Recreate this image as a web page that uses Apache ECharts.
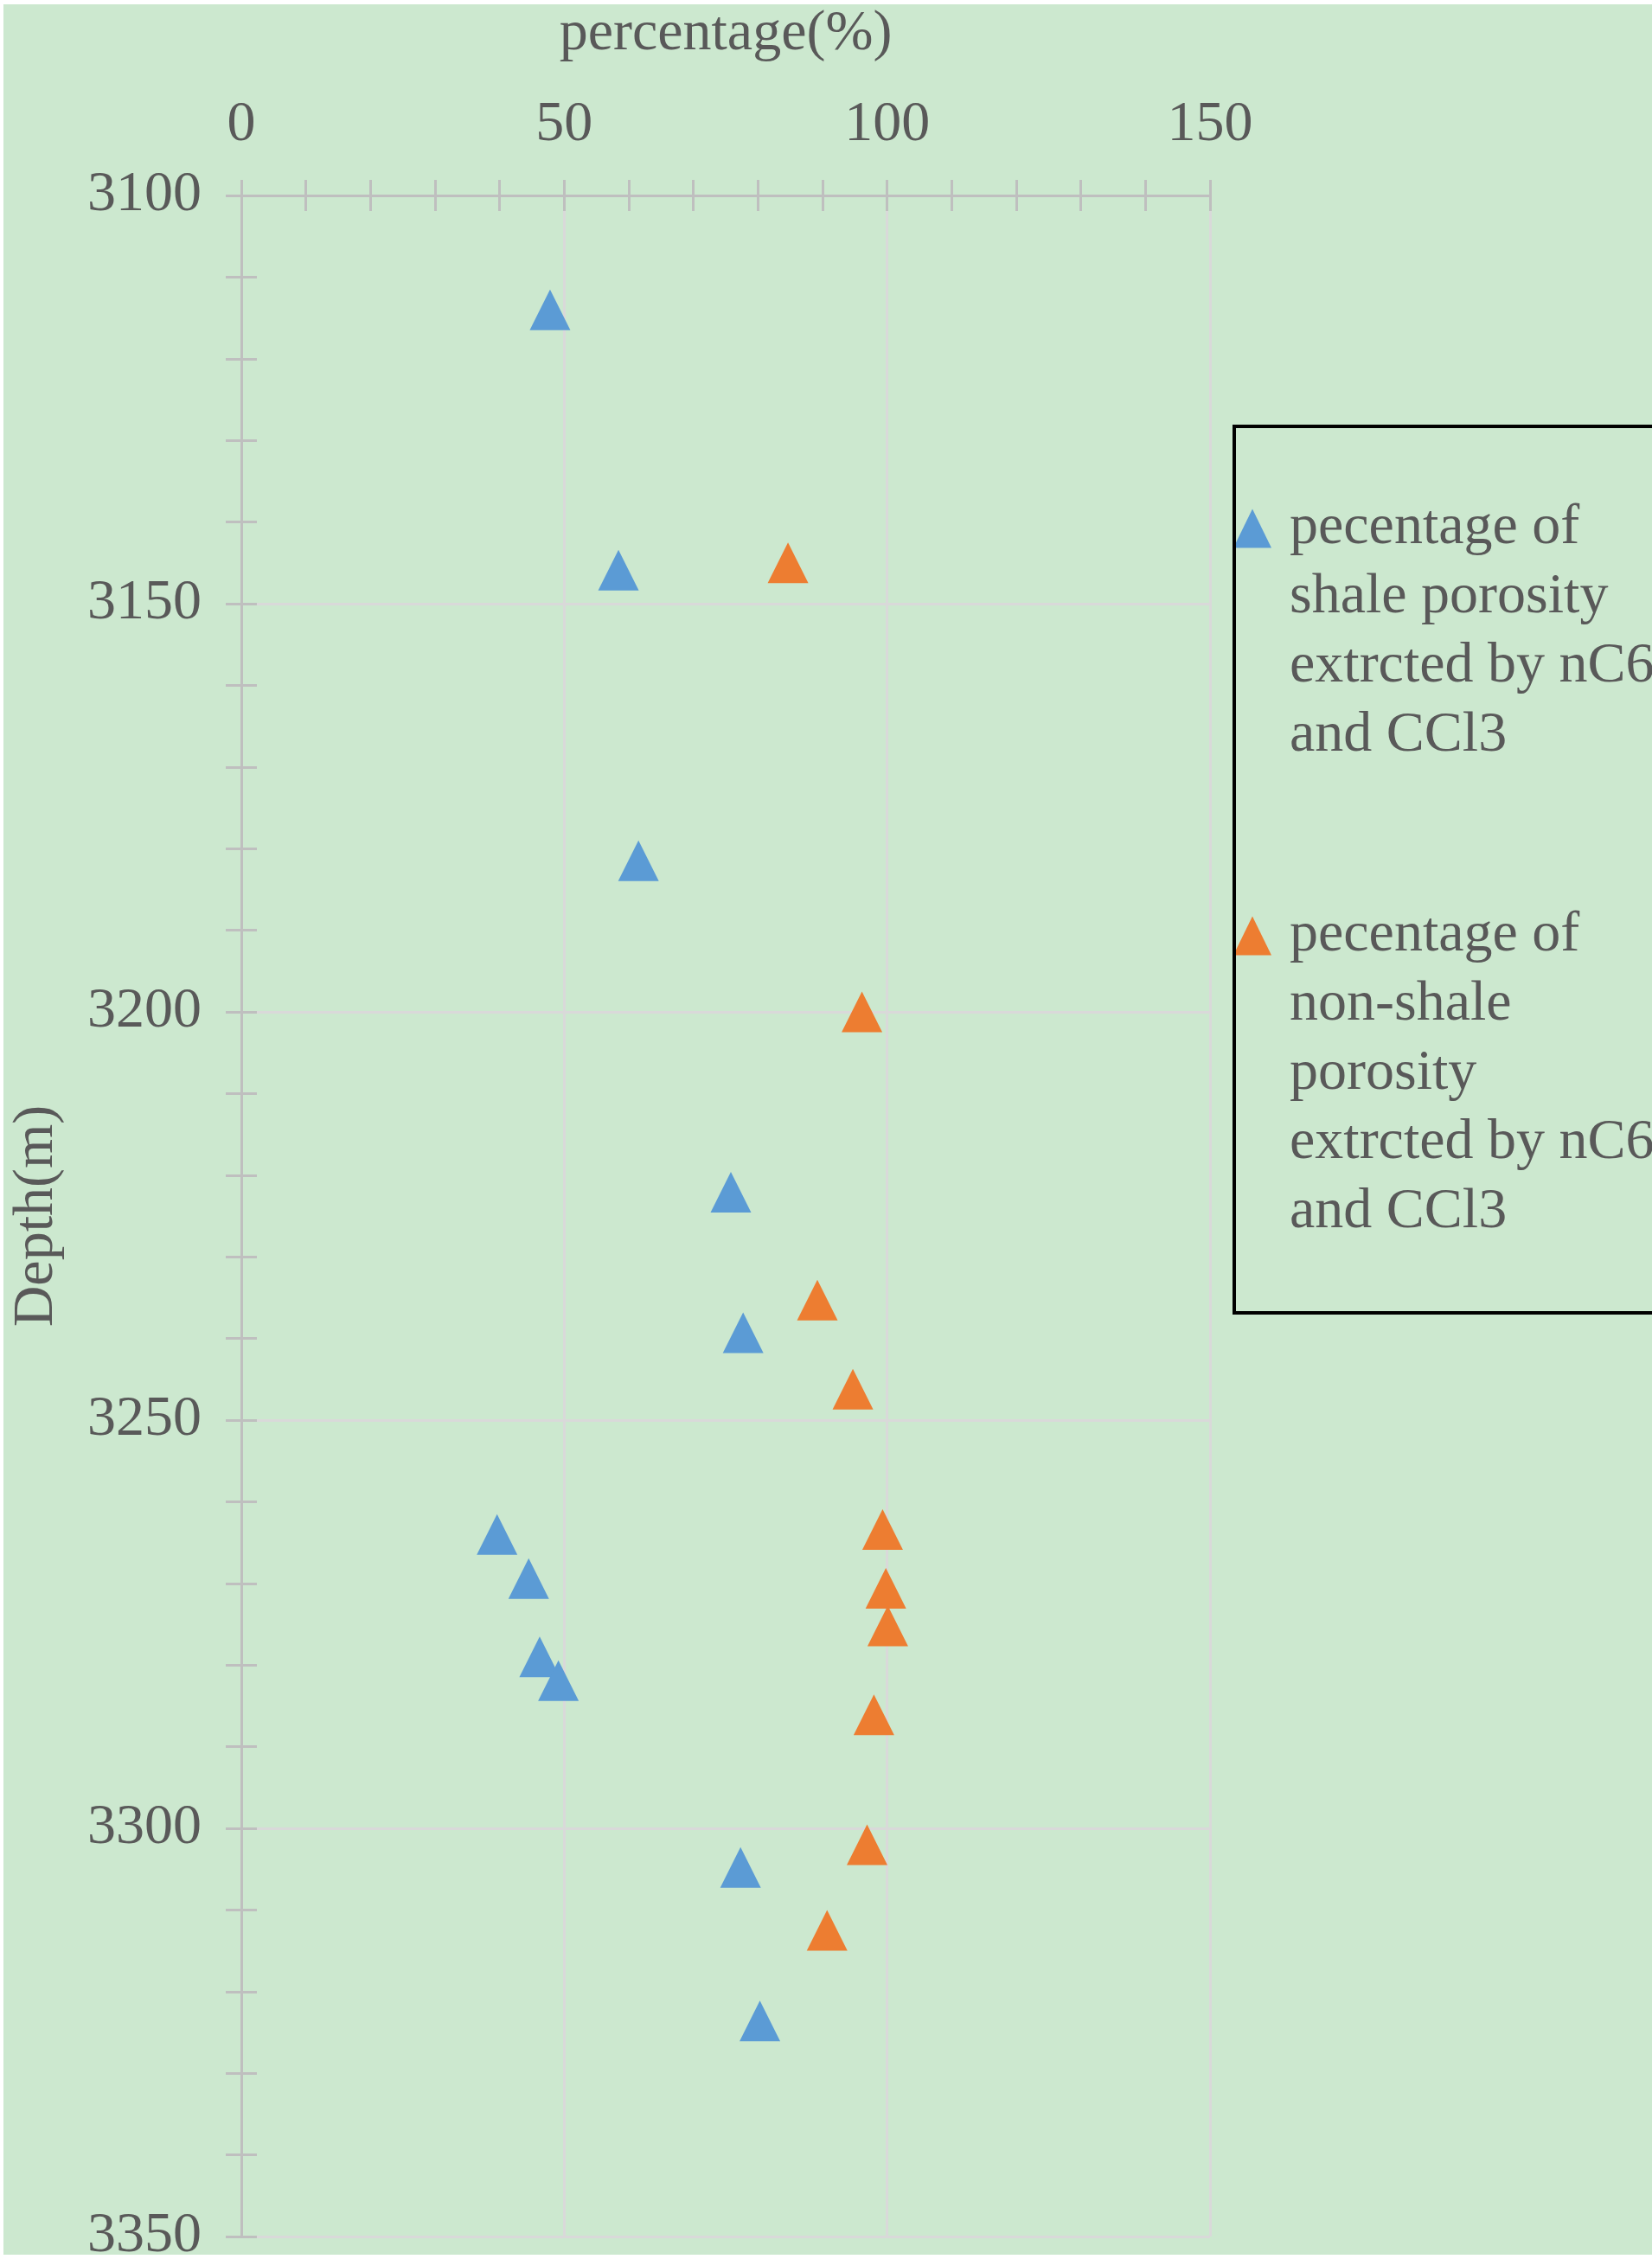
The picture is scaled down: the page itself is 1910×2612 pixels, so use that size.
<!DOCTYPE html>
<html><head><meta charset="utf-8">
<script src="https://cdn.jsdelivr.net/npm/echarts@6/dist/echarts.min.js"></script>
<style>html,body{margin:0;padding:0;background:#fff}#c{width:1910px;height:2612px}</style>
</head><body><div id="c"></div>
<script>
// ---- data ----
const xTickValues = [0, 50, 100, 150];
const yTickValues = [3100, 3150, 3200, 3250, 3300, 3350];
const shaleDepth = [3114.0, 3145.9, 3181.5, 3222.1, 3239.3, 3264.0, 3269.4, 3279.0, 3281.9, 3304.8, 3323.6];
const shalePct   = [47.8, 58.4, 61.5, 75.8, 77.7, 39.6, 44.5, 46.2, 49.1, 77.3, 80.3];
const nonShaleDepth = [3145.0, 3200.0, 3235.3, 3246.2, 3263.4, 3270.6, 3275.2, 3286.1, 3302.0, 3312.5];
const nonShalePct   = [84.65, 96.1, 89.2, 94.7, 99.3, 99.8, 100.1, 97.95, 96.9, 90.7];
const seriesNames = [
  'pecentage of shale porosity extrcted by nC6 and CCl3',
  'pecentage of non-shale porosity extrcted by nC6 and CCl3'
];
const legendLines = [
  ['pecentage of', 'shale porosity', 'extrcted by nC6', 'and CCl3'],
  ['pecentage of', 'non-shale', 'porosity', 'extrcted by nC6', 'and CCl3']
];
const xAxisName = 'percentage(%)';
const yAxisName = 'Depth(m)';

// ---- style ----
const FONT = '"Liberation Serif", "DejaVu Serif", serif';
const TXT = '#595959';
const AXIS = '#BFBFBF';
const GRIDC = '#D9D9D9';
const BLUE = '#5B9BD5';
const ORANGE = '#ED7D31';
const LH = 80;

const xMin = xTickValues[0], xMax = xTickValues[xTickValues.length - 1];
const xStep = xTickValues[1] - xTickValues[0];
const yMin = yTickValues[0], yMax = yTickValues[yTickValues.length - 1];
const yStep = yTickValues[1] - yTickValues[0];

const gridRect = { left: 279, right: 511, top: 226, bottom: 26, outerBoundsMode: 'none' };
const tickLine = { color: AXIS, width: 3 };

function xAx(grid, inside) {
  return {
    type: 'value', gridIndex: grid, position: 'top', min: xMin, max: xMax, interval: xStep,
    name: inside ? '' : xAxisName, nameLocation: 'middle', nameGap: 153,
    nameTextStyle: { fontFamily: FONT, fontSize: 66, color: TXT },
    axisLine: { show: !inside, lineStyle: { color: AXIS, width: 3 } },
    axisTick: { show: true, inside: inside, length: 18, lineStyle: tickLine },
    minorTick: { show: true, splitNumber: 5, length: 18, lineStyle: tickLine },
    axisLabel: { show: !inside, margin: 48, fontFamily: FONT, fontSize: 66, color: TXT,
                 formatter: v => String(v) },
    splitLine: { show: !inside, lineStyle: { color: GRIDC, width: 3 } },
    minorSplitLine: { show: false }
  };
}
function yAx(grid, inside) {
  return {
    type: 'value', gridIndex: grid, position: 'left', inverse: true, min: yMin, max: yMax, interval: yStep,
    name: inside ? '' : yAxisName, nameLocation: 'middle', nameGap: 203,
    nameTextStyle: { fontFamily: FONT, fontSize: 66, color: TXT },
    axisLine: { show: !inside, lineStyle: { color: AXIS, width: 3 } },
    axisTick: { show: true, inside: inside, length: 18, lineStyle: tickLine },
    minorTick: { show: true, splitNumber: 5, length: 18, lineStyle: tickLine },
    axisLabel: { show: !inside, margin: 46, fontFamily: FONT, fontSize: 66, color: TXT,
                 formatter: v => String(v) },
    splitLine: { show: !inside, lineStyle: { color: GRIDC, width: 3 } },
    minorSplitLine: { show: false }
  };
}

// icon is centred on the text block: pad blank lines above so the first line sits at the icon
function legendFor(i, firstLineY) {
  const lines = legendLines[i];
  const blanks = lines.length - 1;
  const text = new Array(blanks).fill('').concat(lines).join('\n');
  const total = blanks + lines.length;
  return {
    data: [seriesNames[i]], orient: 'vertical', left: 1426,
    top: firstLineY - (total / 2) * LH, padding: 0,
    itemWidth: 44, itemHeight: 45, icon: 'triangle', selectedMode: false,
    formatter: () => text,
    textStyle: { fontFamily: FONT, fontSize: 66, lineHeight: LH, color: TXT, padding: [0, 0, 0, 16] }
  };
}

const chart = echarts.init(document.getElementById('c'), null, { renderer: 'canvas' });
chart.setOption({
  backgroundColor: '#CCE8CF',
  animation: false,
  grid: [Object.assign({}, gridRect), Object.assign({}, gridRect)],
  xAxis: [xAx(0, false), xAx(1, true)],
  yAxis: [yAx(0, false), yAx(1, true)],
  legend: [legendFor(0, 611), legendFor(1, 1082)],
  series: [
    {
      name: seriesNames[0], type: 'scatter', xAxisIndex: 0, yAxisIndex: 0,
      symbol: 'triangle', symbolSize: 47, itemStyle: { color: BLUE, opacity: 1 },
      data: shalePct.map((v, k) => [v, shaleDepth[k]])
    },
    {
      name: seriesNames[1], type: 'scatter', xAxisIndex: 0, yAxisIndex: 0,
      symbol: 'triangle', symbolSize: 47, itemStyle: { color: ORANGE, opacity: 1 },
      data: nonShalePct.map((v, k) => [v, nonShaleDepth[k]])
    }
  ],
  graphic: [
    { type: 'rect', shape: { x: 1427, y: 493, width: 600, height: 1025 },
      style: { fill: 'none', stroke: '#000', lineWidth: 4 }, z: 100 },
    { type: 'rect', shape: { x: 0, y: 0, width: 1910, height: 5 }, style: { fill: '#fff' }, z: 100 },
    { type: 'rect', shape: { x: 0, y: 0, width: 4, height: 2612 }, style: { fill: '#fff' }, z: 100 },
    { type: 'rect', shape: { x: 0, y: 2607, width: 1910, height: 5 }, style: { fill: '#fff' }, z: 100 }
  ]
});
</script>
</body></html>
